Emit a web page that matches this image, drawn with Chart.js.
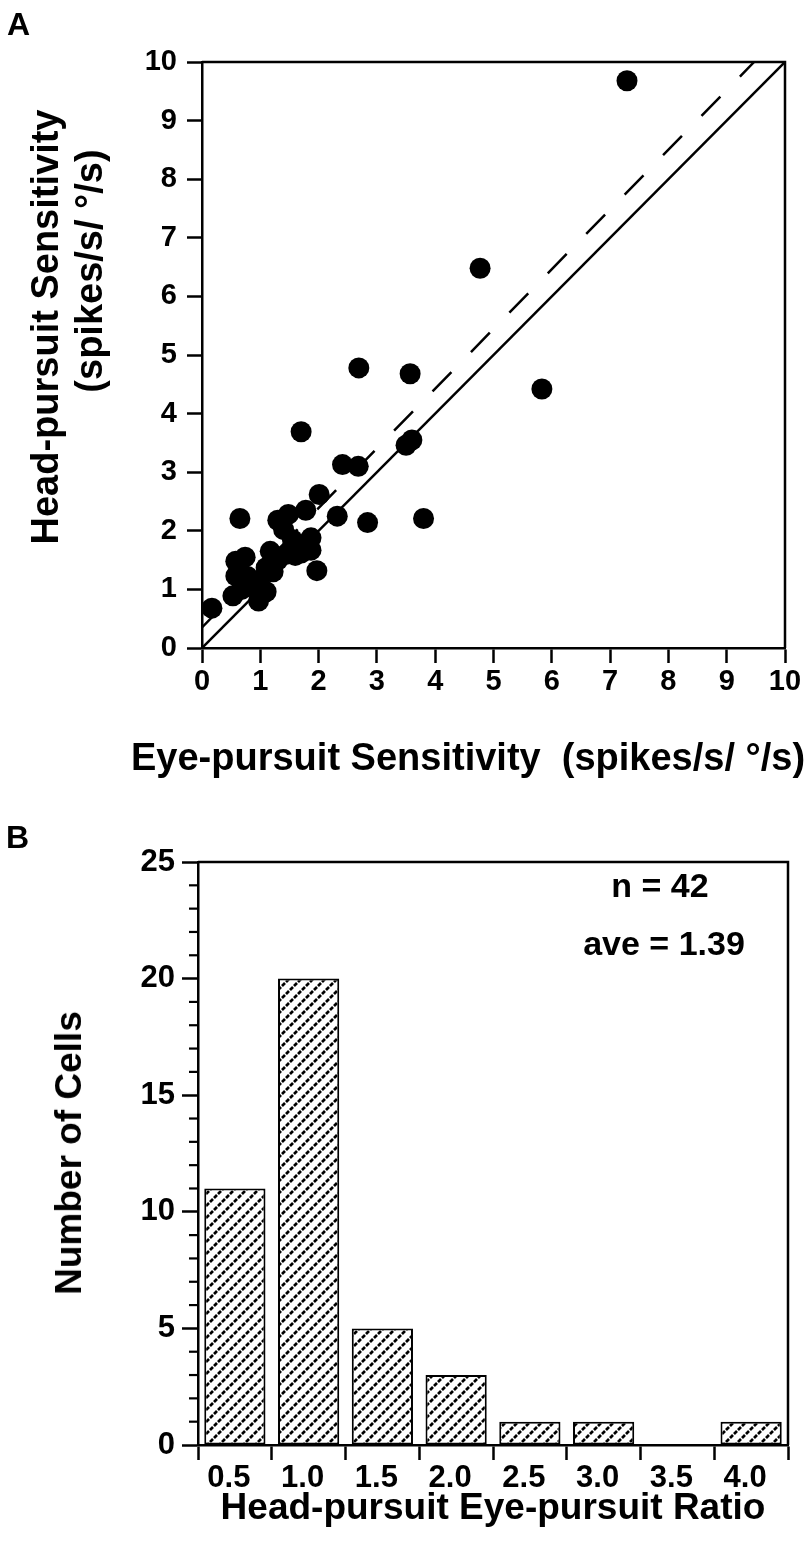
<!DOCTYPE html>
<html><head><meta charset="utf-8">
<script src="https://cdn.jsdelivr.net/npm/chart.js@4.4.1/dist/chart.umd.min.js"></script>
<style>
html,body{margin:0;padding:0;background:#fff;}
#wrap{position:relative;width:806px;height:1550px;overflow:hidden;background:#fff;}
canvas{position:absolute;left:0;}
.t{position:absolute;font-family:"Liberation Sans",Arial,Helvetica,sans-serif;font-weight:bold;color:#000;white-space:nowrap;}
.ttl{font-size:37px;line-height:44px;}
.big{font-size:38px;}
.rot{transform:translate(-50%,-50%) rotate(-90deg);text-align:center;}
.ann{font-size:34px;line-height:40px;transform:translateX(-50%);}
.pl{font-size:32px;line-height:32px;}
</style></head><body>
<div id="wrap">
<canvas id="cA" width="806" height="800" style="top:0"></canvas>
<canvas id="cB" width="806" height="750" style="top:800px"></canvas>
<div class="t pl" style="left:7px;top:8px">A</div>
<div class="t pl" style="left:6px;top:821px">B</div>
<div class="t ttl big rot" style="left:45px;top:327px">Head-pursuit Sensitivity</div>
<div class="t ttl big rot" style="left:89px;top:271px">(spikes/s/ °/s)</div>
<div class="t ttl big" style="left:131px;top:735px">Eye-pursuit Sensitivity&nbsp; (spikes/s/ °/s)</div>
<div class="t ttl rot" style="left:69px;top:1153px">Number of Cells</div>
<div class="t ttl" style="left:493px;top:1485px;transform:translateX(-50%)">Head-pursuit Eye-pursuit Ratio</div>
<div class="t ann" style="left:660px;top:865px">n = 42</div>
<div class="t ann" style="left:664px;top:923px">ave = 1.39</div>
</div>
<script>
// ---- Panel A data ----
const eyeSens  = [7.29,4.77,5.83,2.69,3.57,1.70,3.50,3.60,3.80,2.84,2.32,2.41,2.68,2.01,1.97,0.65,0.17,
                  1.30,1.48,1.78,1.40,1.87,1.68,1.87,1.17,1.45,1.60,1.30,1.10,0.58,0.74,0.58,0.78,0.53,
                  1.10,0.97,0.80,0.68,1.55,1.22,0.98,1.70];
const headSens = [9.68,6.48,4.42,4.78,4.68,3.69,3.46,3.55,2.21,2.14,2.25,3.13,3.10,2.62,1.32,2.21,0.68,
                  2.18,2.28,2.35,2.02,1.88,1.76,1.67,1.65,1.60,1.58,1.50,1.37,1.48,1.55,1.23,1.22,0.89,
                  0.96,0.80,1.05,1.00,1.85,1.30,1.12,1.62];
const unityX = [0, 10];
const unityY = [0, 10];
const fitX = [0, 9.47];
const fitY = [0.35, 10];
const axisTicksA = [0,1,2,3,4,5,6,7,8,9,10];

// ---- Panel B data ----
const ratioBins = ['0.5','1.0','1.5','2.0','2.5','3.0','3.5','4.0'];
const cellCounts = [11, 20, 5, 3, 1, 1, 0, 1];
const countTicks = [0,5,10,15,20,25];

const FONT = '"Liberation Sans", Arial, Helvetica, sans-serif';
Chart.defaults.font.family = FONT;
Chart.defaults.color = '#000';

const frame = {
  id: 'frame',
  afterDraw(chart, args, opts) {
    const {ctx, chartArea: a} = chart;
    ctx.save();
    ctx.strokeStyle = '#000';
    ctx.lineWidth = 2.5;
    ctx.beginPath();
    ctx.moveTo(a.left, a.top); ctx.lineTo(a.right, a.top); ctx.lineTo(a.right, a.bottom);
    ctx.stroke();
    if (opts && opts.minor) {
      const y = chart.scales.y;
      ctx.lineWidth = 2.2;
      for (let v = y.min; v <= y.max; v++) {
        if (v % 5 === 0) continue;
        const py = y.getPixelForValue(v);
        ctx.beginPath(); ctx.moveTo(a.left - 9, py); ctx.lineTo(a.left, py); ctx.stroke();
      }
    }
    ctx.restore();
  }
};

const toPts = (xs, ys) => xs.map((x, i) => ({x, y: ys[i]}));

new Chart(document.getElementById('cA'), {
  type: 'scatter',
  data: {
    datasets: [
      {data: toPts(eyeSens, headSens), pointRadius: 10.5, pointBackgroundColor: '#000', pointBorderWidth: 0, pointHoverRadius: 10.5},
      {data: toPts(unityX, unityY), showLine: true, borderColor: '#000', borderWidth: 2.5, pointRadius: 0},
      {data: toPts(fitX, fitY), showLine: true, borderColor: '#000', borderWidth: 2.5, borderDash: [27, 28], pointRadius: 0}
    ]
  },
  options: {
    responsive: false, animation: false, devicePixelRatio: 1,
    layout: {padding: {top: 62, right: 21, left: 0, bottom: 0}},
    plugins: {legend: {display: false}, tooltip: {enabled: false}, frame: {}},
    scales: {
      x: {
        type: 'linear', min: 0, max: 10,
        afterBuildTicks: s => { s.ticks = axisTicksA.map(v => ({value: v})); },
        ticks: {font: {size: 29, weight: 'bold'}, color: '#000', padding: 2, maxRotation: 0},
        grid: {drawOnChartArea: false, tickLength: 15, tickWidth: 2.5, tickColor: '#000'},
        border: {color: '#000', width: 2.5},
        afterFit: s => { s.height = 152; }
      },
      y: {
        type: 'linear', min: 0, max: 10,
        afterBuildTicks: s => { s.ticks = axisTicksA.map(v => ({value: v})); },
        ticks: {font: {size: 29, weight: 'bold'}, color: '#000', padding: 10},
        grid: {drawOnChartArea: false, tickLength: 15, tickWidth: 2.5, tickColor: '#000'},
        border: {color: '#000', width: 2.5},
        afterFit: s => { s.width = 202; }
      }
    }
  },
  plugins: [frame]
});

function hatch() {
  const N = 12;
  const c = document.createElement('canvas');
  c.width = N; c.height = N;
  const g = c.getContext('2d');
  g.fillStyle = '#fff'; g.fillRect(0, 0, N, N);
  g.strokeStyle = '#000';
  g.lineWidth = 2.7;
  g.lineCap = 'butt';
  const d = N * Math.SQRT2 / 3;
  g.setLineDash([d * 0.75, d * 0.25]);
  for (const off of [-N, 0, N]) {
    g.beginPath();
    g.moveTo(off - 2, N + 2);
    g.lineTo(off + N + 2, -2);
    g.stroke();
  }
  return g.createPattern(c, 'repeat');
}

new Chart(document.getElementById('cB'), {
  type: 'bar',
  data: {
    labels: ratioBins,
    datasets: [{
      data: cellCounts, backgroundColor: hatch(), borderColor: '#000', borderWidth: 2,
      borderSkipped: false, barPercentage: 0.83, categoryPercentage: 1
    }]
  },
  options: {
    responsive: false, animation: false, devicePixelRatio: 1,
    layout: {padding: {top: 62, right: 18, left: 0, bottom: 0}},
    plugins: {legend: {display: false}, tooltip: {enabled: false}, frame: {minor: true}},
    scales: {
      x: {
        offset: true,
        ticks: {font: {size: 31, weight: 'bold'}, color: '#000', padding: 0, maxRotation: 0, labelOffset: -6},
        grid: {offset: true, drawOnChartArea: false, tickLength: 15, tickWidth: 2.5, tickColor: '#000'},
        border: {color: '#000', width: 2.5},
        afterFit: s => { s.height = 105; }
      },
      y: {
        min: 0, max: 25,
        afterBuildTicks: s => { s.ticks = countTicks.map(v => ({value: v})); },
        ticks: {font: {size: 31, weight: 'bold'}, color: '#000', padding: 7},
        grid: {drawOnChartArea: false, tickLength: 16, tickWidth: 2.5, tickColor: '#000'},
        border: {color: '#000', width: 2.5},
        afterFit: s => { s.width = 198; }
      }
    }
  },
  plugins: [frame]
});
</script>
</body></html>
